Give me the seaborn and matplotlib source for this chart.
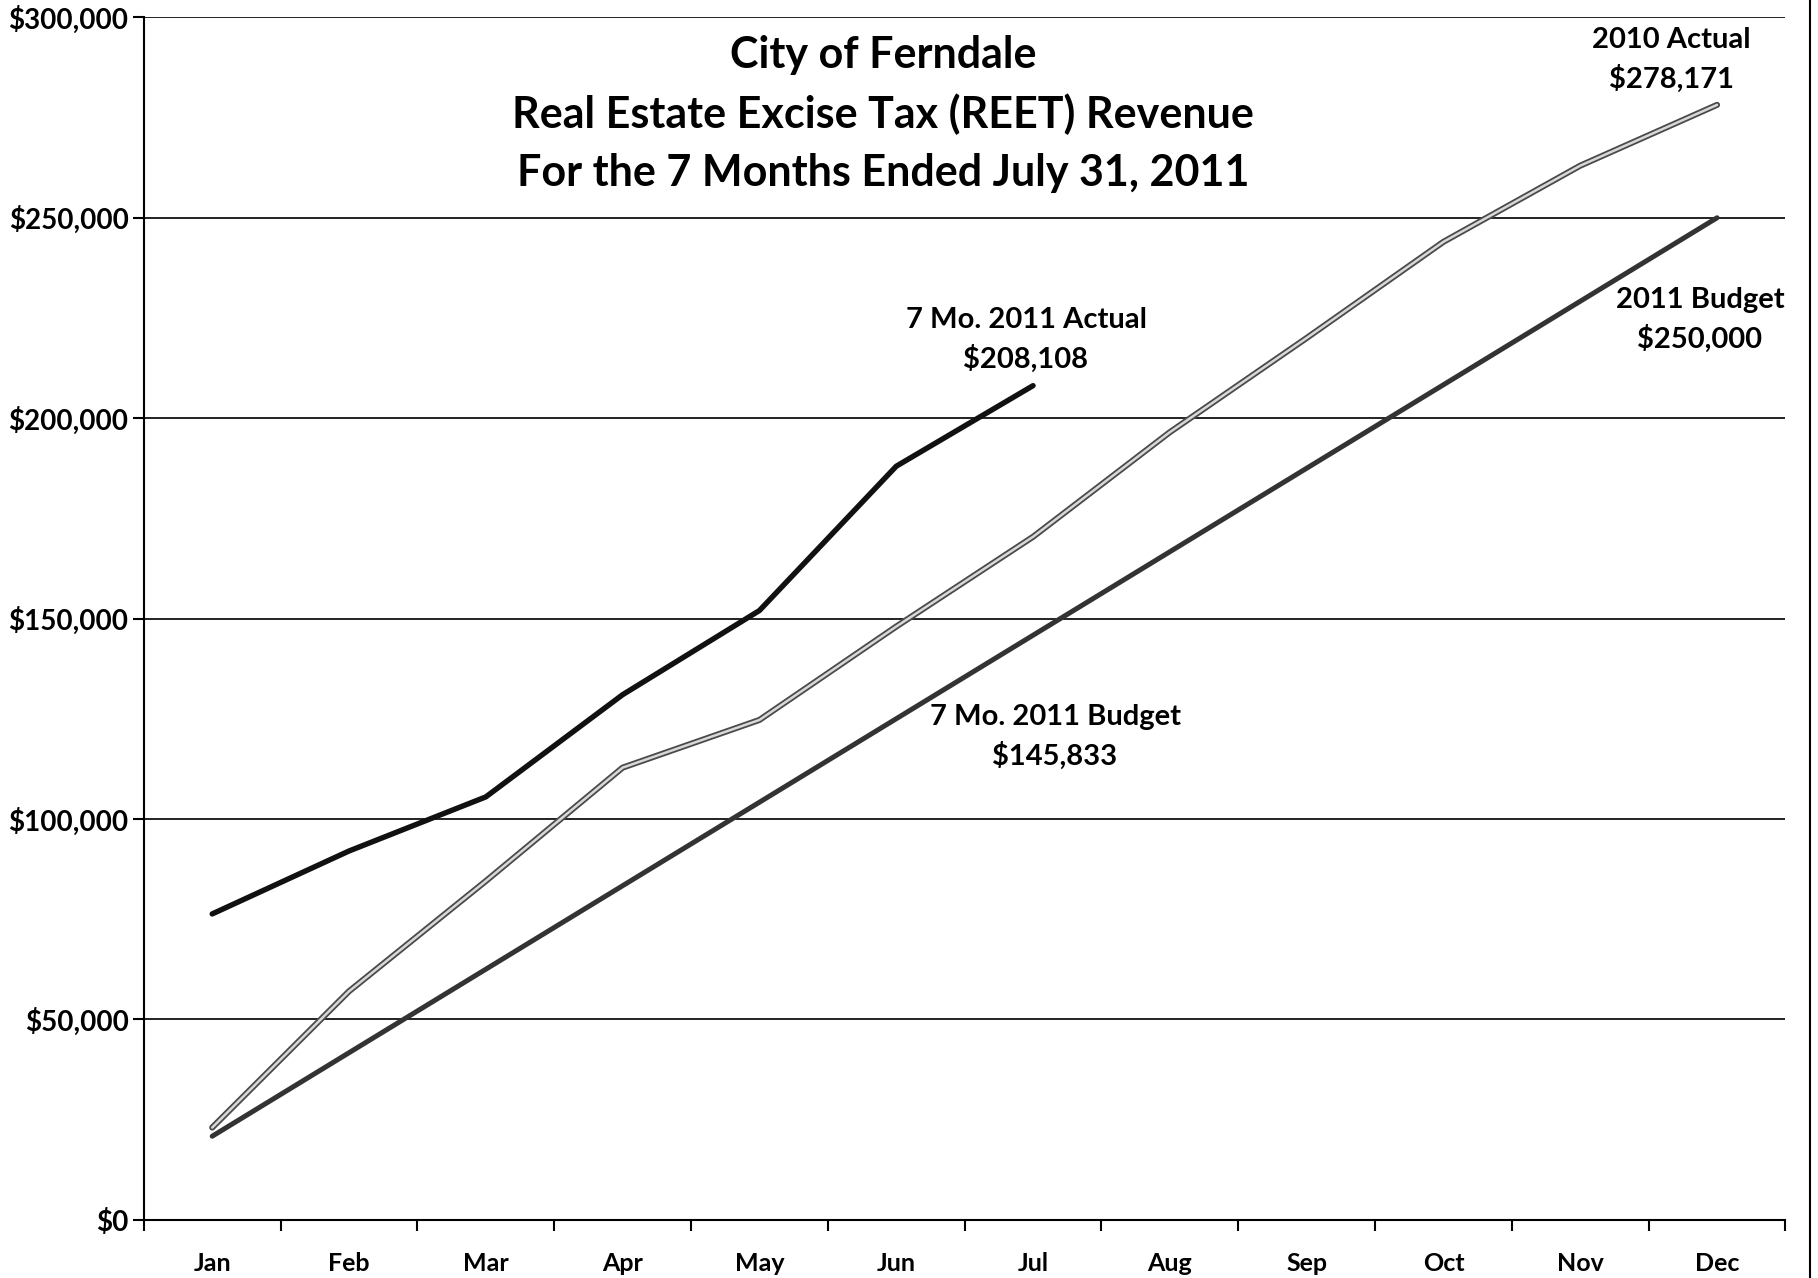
import numpy as np
import pandas as pd
import matplotlib
matplotlib.use("Agg")
import matplotlib.pyplot as plt
import matplotlib.patheffects as pe
from matplotlib.lines import Line2D
from matplotlib.ticker import FuncFormatter, FixedLocator
import seaborn as sns

# ---- data ----
months = ["Jan", "Feb", "Mar", "Apr", "May", "Jun", "Jul", "Aug", "Sep", "Oct", "Nov", "Dec"]
actual_2011 = [76300, 92000, 105500, 131000, 152000, 188000, 208108]
actual_2010 = [23000, 57000, 84500, 112800, 124700, 148000, 170400, 196500, 220000, 244000, 263000, 278171]
budget_2011 = [20833, 41667, 62500, 83333, 104167, 125000, 145833, 166667, 187500, 208333, 229167, 250000]
y_ticks = [0, 50000, 100000, 150000, 200000, 250000, 300000]
title_lines = ["City of Ferndale", "Real Estate Excise Tax (REET) Revenue", "For the 7 Months Ended July 31, 2011"]

sns.set_theme(style="white")
plt.rcParams["font.family"] = ["Lato", "DejaVu Sans"]
plt.rcParams["font.weight"] = "bold"

df10 = pd.DataFrame({"m": np.arange(len(actual_2010)), "v": actual_2010})
df11 = pd.DataFrame({"m": np.arange(len(actual_2011)), "v": actual_2011})
dfb = pd.DataFrame({"m": np.arange(len(budget_2011)), "v": budget_2011})

fig = plt.figure(figsize=(18.18, 12.78), dpi=100)
ax = fig.add_axes([0.0791, 0.0456, 0.9821 - 0.0791, 0.9864 - 0.0456])

# gridlines
ax.set_axisbelow(True)
ax.yaxis.grid(True, color="#111111", linewidth=1.3)
ax.xaxis.grid(False)

sns.lineplot(data=dfb, x="m", y="v", ax=ax, color="#333333", linewidth=3.6, solid_capstyle="round")
l10 = sns.lineplot(data=df10, x="m", y="v", ax=ax, color="#d8d8d8", linewidth=1.8,
                   solid_capstyle="round").lines[-1]
l10.set_path_effects([pe.Stroke(linewidth=4.4, foreground="#4a4a4a"), pe.Normal()])
sns.lineplot(data=df11, x="m", y="v", ax=ax, color="#111111", linewidth=3.9, solid_capstyle="round")

ax.set_xlim(-0.5, len(months) - 0.5)
ax.set_ylim(0, 300000)
ax.set_xlabel("")
ax.set_ylabel("")

ax.set_yticks(y_ticks)
ax.yaxis.set_major_formatter(FuncFormatter(lambda v, p: f"${v:,.0f}"))
ax.set_xticks(np.arange(len(months)))
ax.set_xticklabels(months)
ax.xaxis.set_minor_locator(FixedLocator(np.arange(len(months) + 1) - 0.5))

ax.tick_params(axis="x", which="major", length=0, pad=23, labelsize=18, labelcolor="black")
ax.tick_params(axis="x", which="minor", length=8, width=1.5, color="black", direction="out", bottom=True)
ax.tick_params(axis="y", which="major", length=8, width=1.5, color="black", direction="out",
               left=True, pad=3, labelsize=20, labelcolor="black")
for lab in ax.get_xticklabels() + ax.get_yticklabels():
    lab.set_fontweight("bold")

for s in ["top", "right"]:
    ax.spines[s].set_visible(False)
for s in ["left", "bottom"]:
    ax.spines[s].set_color("black")
    ax.spines[s].set_linewidth(1.5)

# title
for i, t in enumerate(title_lines):
    fig.text(883 / 1818, 1 - (55 + 59 * i) / 1278, t, ha="center", va="center",
             fontsize=31, fontweight="bold", color="black")

# annotations
def label(x, y, s):
    fig.text(x / 1818, 1 - y / 1278, s, ha="center", va="center",
             fontsize=21, fontweight="bold", color="black")

label(1671, 40, "2010 Actual")
label(1671, 79, "$278,171")
label(1700, 300, "2011 Budget")
label(1700, 339, "$250,000")
label(1026, 320, "7 Mo. 2011 Actual")
label(1026, 359, "$208,108")
label(1055, 717, "7 Mo. 2011 Budget")
label(1055, 756, "$145,833")

# chart frame line at right edge
fig.add_artist(Line2D([1810 / 1818, 1810 / 1818], [0, 1], color="black", linewidth=1.5))

fig.savefig("out.png", dpi=100, facecolor="white")
